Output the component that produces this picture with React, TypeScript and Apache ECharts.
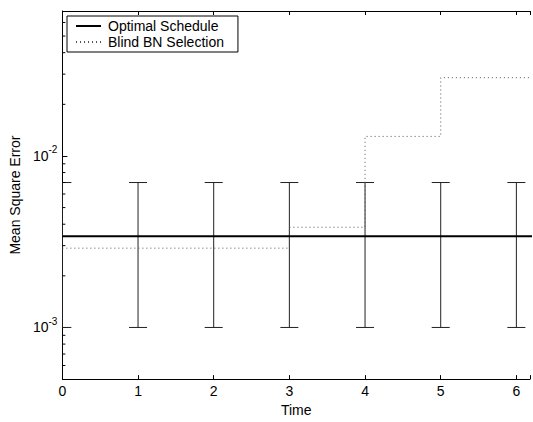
import { useEffect, useRef } from "react";
import * as echarts from "echarts";

const xTicks = [0, 1, 2, 3, 4, 5, 6];
const optimalTime = [0, 6.5];
const optimalMSE = [0.0034, 0.0034];
const blindTime = [0, 3, 4, 5, 6.5];
const blindMSE = [0.0029, 0.00384, 0.013, 0.0286, 0.0286];
const errTime = [0, 1, 2, 3, 4, 5, 6];
const errLow = [0.001, 0.001, 0.001, 0.001, 0.001, 0.001, 0.001];
const errHigh = [0.007, 0.007, 0.007, 0.007, 0.007, 0.007, 0.007];
const yMinorTicks = [
  6e-4, 7e-4, 8e-4, 9e-4,
  2e-3, 3e-3, 4e-3, 5e-3, 6e-3, 7e-3, 8e-3, 9e-3,
  2e-2, 3e-2, 4e-2, 5e-2, 6e-2,
];

const FONT = "'Liberation Sans', Arial, Helvetica, sans-serif";

export default function App() {
  const ref = useRef<HTMLDivElement>(null);
  useEffect(() => {
    document.body.style.margin = "0";
    if (!ref.current) return;
    const chart = echarts.init(ref.current, null, { renderer: "svg" });
    const isPow10 = (v: number) => {
      const l = Math.log10(v);
      return Math.abs(l - Math.round(l)) < 1e-6;
    };
    chart.setOption({
      animation: false,
      backgroundColor: "#fff",
      textStyle: { fontFamily: FONT },
      grid: { left: 62, right: 0, top: 11, bottom: 35 },
      legend: {
        left: 67,
        top: 16,
        orient: "vertical",
        borderColor: "#000",
        borderWidth: 1,
        borderRadius: 0,
        backgroundColor: "#fff",
        padding: [3, 14, 3, 8],
        itemWidth: 25,
        itemHeight: 14,
        itemGap: 2,
        itemStyle: { opacity: 0 },
        textStyle: { fontSize: 14, color: "#000", fontFamily: FONT, padding: [0, 0, 0, 2] },
        data: ["Optimal Schedule", "Blind BN Selection"],
      },
      xAxis: [
        {
          type: "value",
          min: 0,
          max: 6.18,
          interval: 1,
          position: "bottom",
          name: "Time",
          nameLocation: "middle",
          nameGap: 19,
          nameTextStyle: { fontSize: 14, color: "#000", fontFamily: FONT },
          axisLine: { show: true, lineStyle: { color: "#000", width: 1 } },
          axisTick: { show: true, inside: true, length: 4, lineStyle: { color: "#000" } },
          axisLabel: {
            margin: 5,
            fontSize: 14,
            color: "#000",
            fontFamily: FONT,
            formatter: (v: number) => (xTicks.includes(v) ? String(v) : ""),
          },
          splitLine: { show: false },
        },
        {
          type: "value",
          min: 0,
          max: 6.18,
          interval: 1,
          position: "top",
          axisLine: { show: true, lineStyle: { color: "#000", width: 1 } },
          axisTick: { show: true, inside: true, length: 4, lineStyle: { color: "#000" } },
          axisLabel: { show: false },
          splitLine: { show: false },
        },
      ],
      yAxis: {
        type: "log",
        logBase: 10,
        min: 5e-4,
        max: 0.07,
        name: "Mean Square Error",
        nameLocation: "middle",
        nameGap: 36,
        nameTextStyle: { fontSize: 14, color: "#000", fontFamily: FONT },
        axisLine: { show: true, lineStyle: { color: "#000", width: 1 } },
        axisTick: { show: true, inside: true, length: 5, lineStyle: { color: "#000" } },
        splitLine: { show: false },
        axisLabel: {
          margin: 5,
          color: "#000",
          fontFamily: FONT,
          formatter: (v: number) =>
            isPow10(v) ? `{b|10}{s|${Math.round(Math.log10(v))}}` : "",
          rich: {
            b: { fontSize: 14, lineHeight: 22, verticalAlign: "middle", color: "#000", fontFamily: FONT },
            s: { fontSize: 10, lineHeight: 10, verticalAlign: "top", color: "#000", fontFamily: FONT },
          },
        },
      },
      series: [
        {
          name: "Optimal Schedule",
          type: "line",
          data: optimalTime.map((t, i) => [t, optimalMSE[i]]),
          symbol: "none",
          lineStyle: { color: "#000", width: 2 },
          itemStyle: { color: "#000" },
          z: 4,
        },
        {
          name: "Blind BN Selection",
          type: "line",
          step: "end",
          data: blindTime.map((t, i) => [t, blindMSE[i]]),
          symbol: "none",
          lineStyle: { color: "#555", width: 1, type: [1, 3] },
          itemStyle: { color: "#555" },
          z: 3,
        },
        {
          type: "custom",
          clip: true,
          data: errTime.map((t, i) => [t, errLow[i], errHigh[i]]),
          renderItem: (_params: any, api: any) => {
            const t = api.value(0);
            const lo = api.coord([t, api.value(1)]);
            const hi = api.coord([t, api.value(2)]);
            const hw = 9;
            const style = { stroke: "#222", lineWidth: 1 };
            return {
              type: "group",
              children: [
                { type: "line", shape: { x1: lo[0], y1: lo[1], x2: hi[0], y2: hi[1] }, style },
                { type: "line", shape: { x1: lo[0] - hw, y1: lo[1], x2: lo[0] + hw, y2: lo[1] }, style },
                { type: "line", shape: { x1: hi[0] - hw, y1: hi[1], x2: hi[0] + hw, y2: hi[1] }, style },
              ],
            };
          },
          z: 2,
        },
        {
          type: "custom",
          clip: false,
          data: yMinorTicks.map((v) => [0, v]),
          renderItem: (_params: any, api: any) => {
            const p = api.coord([api.value(0), api.value(1)]);
            return {
              type: "line",
              shape: { x1: p[0], y1: p[1], x2: p[0] + 3, y2: p[1] },
              style: { stroke: "#000", lineWidth: 1 },
            };
          },
          z: 5,
        },
      ],
    });
    return () => chart.dispose();
  }, []);
  return <div ref={ref} style={{ width: 533, height: 422 }} />;
}
